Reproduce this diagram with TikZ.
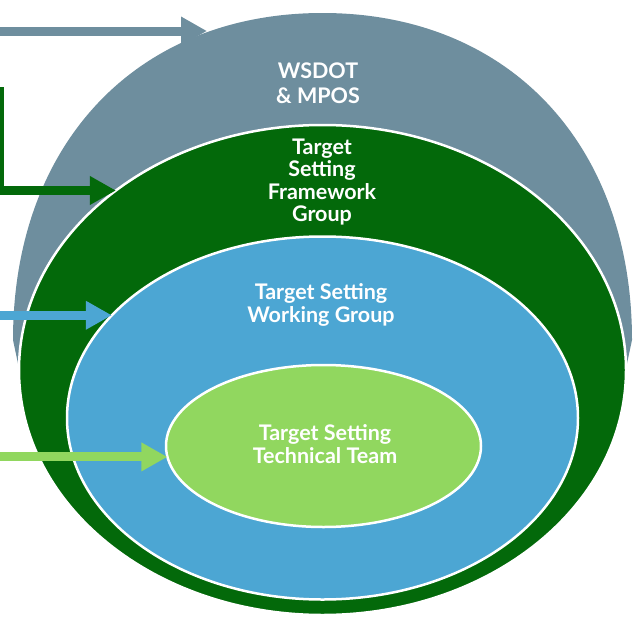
\documentclass[tikz,border=0pt]{standalone}
\usepackage{fontspec}
\setmainfont{Lato}
\usetikzlibrary{arrows.meta,shapes.geometric}
\definecolor{wsdotgray}{RGB}{110,142,158}
\definecolor{framegreen}{RGB}{3,105,10}
\definecolor{workblue}{RGB}{76,166,211}
\definecolor{techgreen}{RGB}{145,215,95}

\begin{document}
\begin{tikzpicture}[x=1pt,y=-1pt,
    ring/.style={ellipse,draw=white,line width=2.5pt,inner sep=0pt,outer sep=0pt},
    grouptext/.style={text=white,font=\bfseries\fontsize{21.5}{22.5}\selectfont,align=center},
    feed/.style={line width=9pt,-{Triangle[length=26pt,width=27pt]}}]
\useasboundingbox (0,0) rectangle (637,624);
% outer dome (WSDOT & MPOS)
\fill[wsdotgray] (30,420) -- (13,340) .. controls (13,144) and (136.5,13) .. (322.5,13)
    .. controls (508.5,13) and (632,144) .. (632,340) -- (615,420) -- cycle;
% nested groups
\node[ring,fill=framegreen,minimum width=607pt,minimum height=490pt] (tsfg) at (322.5,370) {};
\node[ring,fill=workblue,minimum width=511pt,minimum height=363pt] (tswg) at (322.5,418) {};
\node[ring,fill=techgreen,minimum width=315pt,minimum height=162pt] (tstt) at (323.5,446) {};
% labels
\node[grouptext,font=\bfseries\fontsize{21.5}{25}\selectfont] (wsdot) at (318,83) {WSDOT\\\& MPOS};
\node[grouptext] (fwtext) at (322,182) {Target\\Setting\\Framework\\Group};
\node[grouptext] (wgtext) at (321,305) {Target Setting\\Working Group};
\node[grouptext] (tttext) at (325,444) {Target Setting\\Technical Team};
% arrows coming in from the left
\coordinate (lside) at (0,0);
\coordinate (wsdotin) at (207,31);
\coordinate (fwtop) at (-1,87);
\draw[feed,wsdotgray] (wsdotin -| lside) -- (wsdotin);
\draw[feed,framegreen] (fwtop) -- (fwtop |- tsfg.139) -- (tsfg.139);
\draw[feed,workblue] (tswg.154 -| lside) -- (tswg.154);
\draw[feed,techgreen] (tstt.184 -| lside) -- (tstt.184);
\end{tikzpicture}
\end{document}
